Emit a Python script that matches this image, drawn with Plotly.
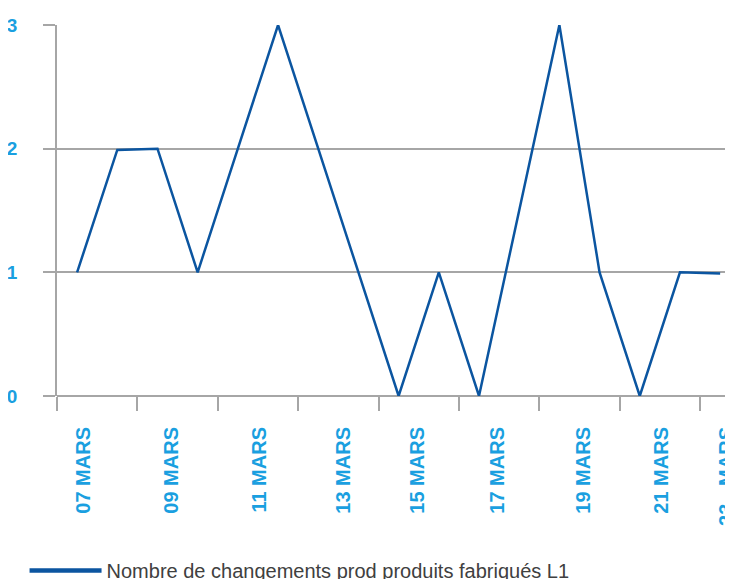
import plotly.graph_objects as go

days = ["07 MARS", "08 MARS", "09 MARS", "10 MARS", "11 MARS", "12 MARS", "13 MARS",
        "14 MARS", "15 MARS", "16 MARS", "17 MARS", "18 MARS", "19 MARS", "20 MARS",
        "21 MARS", "22 MARS", "23 - MARS"]
values = [1, 1.99, 2, 1, 2, 3, 2, 1, 0, 1, 0, 1.5, 3, 1, 0, 1, 0.99]
series_name = "Nombre de changements prod produits fabriqués L1"
y_ticks = [0, 1, 2, 3]
# label offsets (in days) of each shown date label relative to its point
label_offsets = [0.15, 0.35, 0.55, 0.62, 0.47, 0.47, 0.6, 0.55, 0.17]

x_idx = list(range(len(days)))
label_idx = x_idx[::2]
label_vals = [i + o for i, o in zip(label_idx, label_offsets)]
label_text = [days[i] for i in label_idx]
boundary_vals = [i - 0.5 for i in label_idx]

line_color = "#0b55a0"
tick_color = "#1a9fe0"
grid_color = "#a6a6a6"

fig = go.Figure()
fig.add_trace(go.Scatter(x=x_idx, y=values, mode="lines",
                         line=dict(color=line_color, width=2.5),
                         showlegend=False, hoverinfo="y"))
fig.add_trace(go.Scatter(x=[None], y=[None], mode="lines", name=series_name,
                         line=dict(color=line_color, width=4.5)))

fig.update_layout(
    width=725, height=571,
    margin=dict(l=49, r=0, t=17, b=183, autoexpand=False),
    plot_bgcolor="white", paper_bgcolor="white",
    legend=dict(orientation="h", x=-0.048, xanchor="left", y=-0.418, yanchor="top",
                font=dict(family="Liberation Sans", size=20, color="#404040"),
                itemwidth=72, bgcolor="rgba(0,0,0,0)"),
)
fig.update_xaxes(
    range=[-0.5, 16.32], showgrid=False, zeroline=False, showline=False,
    tickmode="array", tickvals=label_vals, ticktext=label_text, ticks="",
    tickangle=-90, ticklabelstandoff=26, ticklabeloverflow="allow",
    tickfont=dict(family="Liberation Sans", size=20, color=tick_color, weight="bold"),
    minor=dict(tickmode="array", tickvals=boundary_vals, ticks="outside",
               ticklen=14, tickwidth=1.5, tickcolor=grid_color, showgrid=False),
)
fig.update_yaxes(
    range=[0, 3], tickmode="array", tickvals=y_ticks,
    showgrid=True, gridcolor=grid_color, gridwidth=1.5,
    zeroline=True, zerolinecolor=grid_color, zerolinewidth=1.5,
    showline=True, linecolor=grid_color, linewidth=1.5,
    ticks="outside", ticklen=12, tickwidth=1.5, tickcolor=grid_color,
    ticklabelstandoff=22,
    tickfont=dict(family="Liberation Sans", size=19, color=tick_color, weight="bold"),
)

fig.write_html("out.html")
